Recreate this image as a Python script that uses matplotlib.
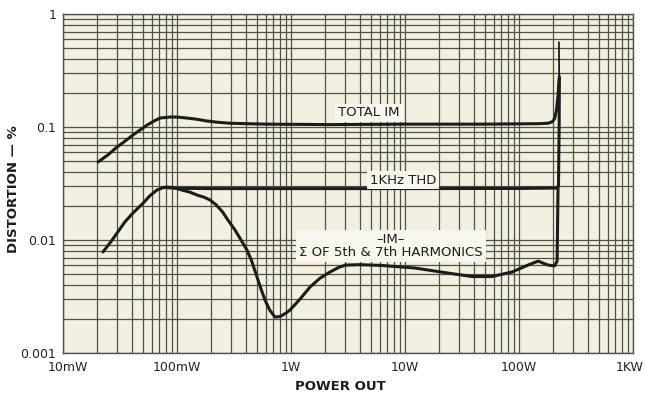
import matplotlib
matplotlib.use("Agg")
import matplotlib.pyplot as plt
import matplotlib.transforms as mtransforms
from matplotlib.ticker import FixedLocator, NullFormatter

# ---- data (power in W, distortion in %) ----
total_im_p = [0.0203, 0.025, 0.0298, 0.035, 0.0411, 0.0546, 0.063, 0.071, 0.0868, 0.1,
              0.1225, 0.15, 0.183, 0.23, 0.292, 0.4, 0.615, 2.2, 10, 50, 150, 180,
              195, 205, 213, 220, 224, 226]
total_im_d = [0.049, 0.057, 0.0665, 0.075, 0.085, 0.104, 0.113, 0.120, 0.1225, 0.1225,
              0.120, 0.117, 0.113, 0.110, 0.108, 0.107, 0.106, 0.105, 0.106, 0.106,
              0.107, 0.108, 0.111, 0.118, 0.14, 0.19, 0.25, 0.28]
spike_p = [225, 224]
spike_d = [0.27, 0.56]

thd_p = [0.075, 0.1, 0.2, 1, 10, 100, 215, 222, 225, 226]
thd_d = [0.0292, 0.0287, 0.0285, 0.0285, 0.0285, 0.0286, 0.0288, 0.03, 0.1, 0.27]

im57_p = [0.0224, 0.026, 0.0298, 0.035, 0.0411, 0.0504, 0.058, 0.0668, 0.075, 0.0817,
          0.095, 0.106, 0.13, 0.15, 0.175, 0.195, 0.22, 0.25, 0.28, 0.323, 0.36, 0.411,
          0.45, 0.503, 0.55, 0.592, 0.65, 0.724, 0.8, 0.9, 0.98, 1.2, 1.47, 1.8, 2.2,
          2.6, 3.0, 4.0, 6.3, 12.2, 23.8, 38.7, 58, 87, 120, 147, 180, 205, 216, 220]
im57_d = [0.00783, 0.0095, 0.01153, 0.0145, 0.01734, 0.0212, 0.0247, 0.0277, 0.0290,
          0.0294, 0.0290, 0.0280, 0.0265, 0.0250, 0.0238, 0.0226, 0.0205, 0.0178, 0.0150,
          0.01225, 0.0102, 0.00816, 0.0066, 0.00471, 0.0036, 0.00294, 0.0024, 0.00208,
          0.0021, 0.00225, 0.0024, 0.0030, 0.00384, 0.0046, 0.00521, 0.0057, 0.0060,
          0.00605, 0.00595, 0.00565, 0.0051, 0.00475, 0.00475, 0.00521, 0.006, 0.0065,
          0.006, 0.0059, 0.0065, 0.029]

x_ticks = [0.01, 0.1, 1, 10, 100, 1000]
x_labels = ["10mW", "100mW", "1W", "10W", "100W", "1KW"]
y_ticks = [0.001, 0.01, 0.1, 1]
y_labels = ["0.001", "0.01", "0.1", "1"]

paper = "#f3efe1"
gridc = "#4e5247"
ink = "#1c1c1a"

fig = plt.figure(figsize=(6.45, 4.01), dpi=100)
ax = fig.add_axes([63/645, 1-353/401, 570/645, 339/401])
ax.set_facecolor(paper)
ax.set_xscale("log")
ax.set_yscale("log")
ax.set_xlim(0.01, 1000)
ax.set_ylim(0.001, 1)

ax.xaxis.set_major_locator(FixedLocator(x_ticks))
ax.yaxis.set_major_locator(FixedLocator(y_ticks))
minx = [m * 10.0**e for e in range(-2, 3) for m in range(2, 10)]
miny = [m * 10.0**e for e in range(-3, 0) for m in range(2, 10)]
ax.xaxis.set_minor_locator(FixedLocator(minx))
ax.yaxis.set_minor_locator(FixedLocator(miny))
ax.xaxis.set_minor_formatter(NullFormatter())
ax.yaxis.set_minor_formatter(NullFormatter())
ax.set_xticklabels(x_labels)
ax.set_yticklabels(y_labels)
ax.grid(True, which="both", color=gridc, linewidth=0.9)
ax.set_axisbelow(True)
ax.tick_params(which="both", length=0)
ax.tick_params(axis="x", pad=6, labelsize=9, colors="#222")
ax.tick_params(axis="y", pad=5, labelsize=9, colors="#222")
for s in ax.spines.values():
    s.set_color(gridc)
    s.set_linewidth(1.0)

# nudge first and last x tick labels like the reference
xl = ax.get_xticklabels()
xl[0].set_transform(xl[0].get_transform() +
                    mtransforms.ScaledTranslation(5/100, 0, fig.dpi_scale_trans))
xl[-1].set_ha("right")
xl[-1].set_transform(xl[-1].get_transform() +
                     mtransforms.ScaledTranslation(11/100, 0, fig.dpi_scale_trans))

lw = 2.2
ax.plot(total_im_p, total_im_d, color=ink, lw=lw, solid_joinstyle="round", solid_capstyle="round")
ax.plot(spike_p, spike_d, color=ink, lw=1.3)
ax.plot(thd_p, thd_d, color=ink, lw=lw, solid_joinstyle="round", solid_capstyle="round")
ax.plot(im57_p, im57_d, color=ink, lw=lw, solid_joinstyle="round", solid_capstyle="round")

box = dict(facecolor="#f8f6ee", edgecolor="none", pad=2)
fs = 9.5

def put(xp, yp, s, **kw):
    fig.text(xp / 645, 1 - yp / 401, s, ha="center", va="center", fontsize=fs,
             color=ink, bbox=box, zorder=5, **kw)

put(369, 113, "TOTAL IM")
put(403, 180, "1KHz THD")
put(391, 246, "\u2013IM\u2013\n\u03a3 OF 5th & 7th HARMONICS", linespacing=1.0)

fig.text(14 / 645, 1 - 189 / 401, "DISTORTION \u2014 %", rotation=90, ha="center",
         va="center", fontsize=9.5, color=ink, fontweight="semibold")
fig.text(340 / 645, 1 - 387 / 401, "POWER OUT", ha="center", va="center",
         fontsize=9.5, color=ink, fontweight="semibold")

fig.savefig("out.png", dpi=100, facecolor="white")
